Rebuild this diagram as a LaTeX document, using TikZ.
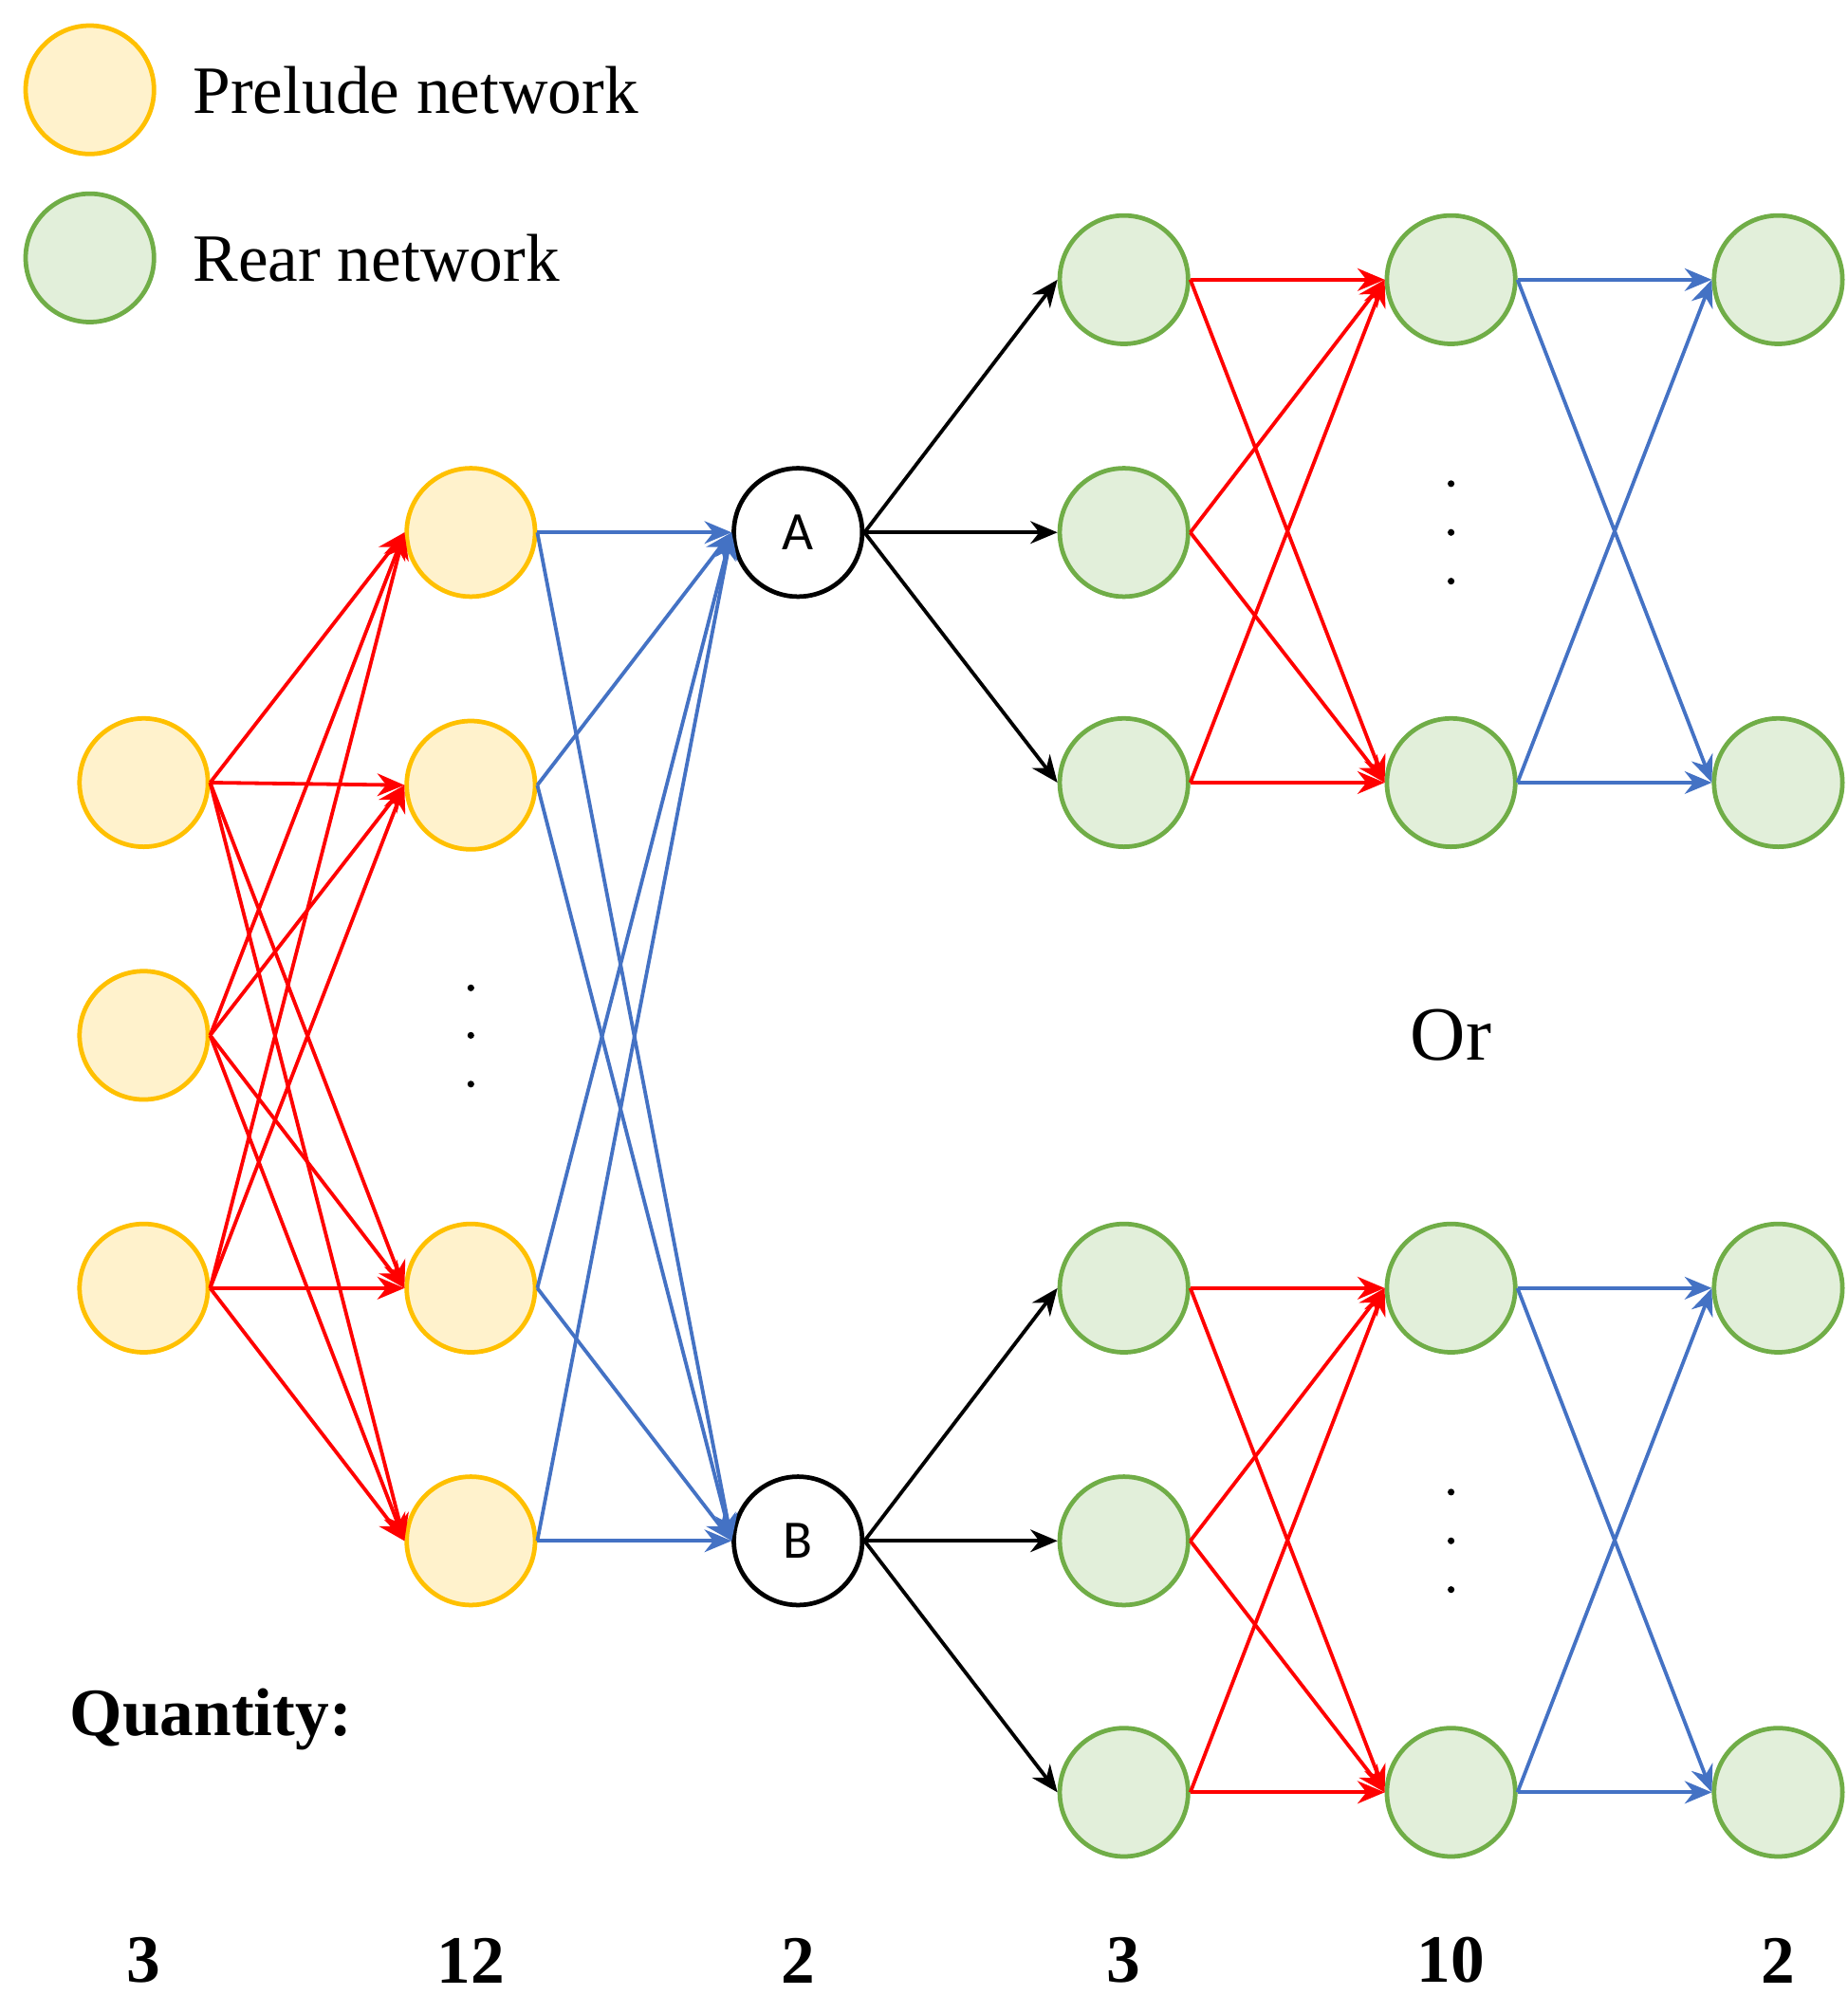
\documentclass[tikz,border=0pt]{standalone}
\usepackage{fontspec}
\setmainfont{Liberation Serif}
\newfontfamily\carfont{Carlito}
\usetikzlibrary{arrows.meta}
\definecolor{yfill}{HTML}{FFF2CC}\definecolor{ydraw}{HTML}{FFC000}
\definecolor{gfill}{HTML}{E2EFDA}\definecolor{gdraw}{HTML}{70AD47}
\definecolor{myblue}{HTML}{4472C4}
\begin{document}
\begin{tikzpicture}[x=0.01cm,y=-0.01cm,
 yel/.style={circle,draw=ydraw,fill=yfill,line width=1pt,minimum size=1cm,inner sep=0},
 grn/.style={circle,draw=gdraw,fill=gfill,line width=1pt,minimum size=1cm,inner sep=0},
 wht/.style={circle,draw=black,fill=white,line width=1pt,minimum size=1cm,inner sep=0,font=\carfont\fontsize{12}{14}\selectfont},
 e/.style={line width=0.8pt,-{Stealth[length=6pt,width=5pt]}},
 r/.style={e,red},b/.style={e,myblue},k/.style={e,black},
 lbl/.style={font=\fontsize{15}{18}\selectfont,anchor=west},
 num/.style={font=\bfseries\fontsize{15}{18}\selectfont},
 dot/.style={circle,fill=black,inner sep=0,minimum size=1.5pt}]
\useasboundingbox (0,0) rectangle (1440,1555);
\node[yel] (ly) at (70,70) {};
\node[lbl] (lyt) at (138,70) {Prelude network};
\node[grn] (lg) at (70,201) {};
\node[lbl] (lgt) at (138,201) {Rear network};
\foreach \i/\y in {1/610,2/807,3/1004} \node[yel] (a\i) at (112,\y) {};
\foreach \i/\y in {1/415,2/612,3/1004,4/1201} \node[yel] (b\i) at (367,\y) {};
\node[wht] (A) at (622,415) {A};
\node[wht] (B) at (622,1201) {B};
\foreach \i/\y in {1/218,2/415,3/610} \node[grn] (c\i) at (876,\y) {};
\foreach \i/\y in {1/1004,2/1201,3/1397} \node[grn] (d\i) at (876,\y) {};
\foreach \i/\y in {1/218,2/610} {\node[grn] (e\i) at (1131,\y) {}; \node[grn] (g\i) at (1386,\y) {};}
\foreach \i/\y in {1/1004,2/1397} {\node[grn] (f\i) at (1131,\y) {}; \node[grn] (h\i) at (1386,\y) {};}
\foreach \i in {1,2,3} \foreach \j in {1,2,3,4} \draw[r] (a\i.east) -- (b\j.west);
\foreach \j in {1,2,3,4} {\draw[b] (b\j.east) -- (A.west); \draw[b] (b\j.east) -- (B.west);}
\foreach \i in {1,2,3} {\draw[k] (A.east) -- (c\i.west); \draw[k] (B.east) -- (d\i.west);}
\foreach \i in {1,2,3} \foreach \j in {1,2} {\draw[r] (c\i.east) -- (e\j.west); \draw[r] (d\i.east) -- (f\j.west);}
\foreach \i in {1,2} \foreach \j in {1,2} {\draw[b] (e\i.east) -- (g\j.west); \draw[b] (f\i.east) -- (h\j.west);}
\foreach \n/\x/\y in {p1/367/770,p2/367/807,p3/367/845,q1/1131/377,q2/1131/415,q3/1131/453,s1/1131/1163,s2/1131/1201,s3/1131/1239} \node[dot] (\n) at (\x,\y) {};
\node[font=\fontsize{17}{20}\selectfont] (or) at (1131,807) {Or};
\node[num,anchor=west] (qt) at (42,1340) {Quantity:};
\foreach \n/\x/\t in {n1/112/3,n2/367/12,n3/622/2,n4/876/3,n5/1131/10,n6/1386/2} \node[num] (\n) at (\x,1528) {\t};
\end{tikzpicture}
\end{document}
